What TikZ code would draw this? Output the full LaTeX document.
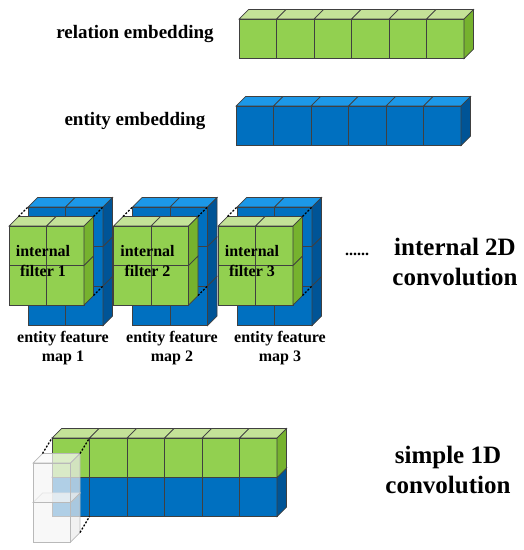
\documentclass[tikz,border=0pt]{standalone}
\usepackage{fontspec}
\setmainfont{Liberation Serif}
\usetikzlibrary{calc}
\definecolor{greenF}{RGB}{146,208,80}
\definecolor{greenT}{RGB}{196,226,152}
\definecolor{greenS}{RGB}{118,178,46}
\definecolor{blueF}{RGB}{0,112,192}
\definecolor{blueT}{RGB}{28,152,232}
\definecolor{blueS}{RGB}{0,84,150}
\newcommand{\cubew}{37.5}
\newcommand{\cubeh}{39.5}
\newcommand{\depx}{9.5}
\newcommand{\depy}{-9.5}
% #1,#2 front top left, #3 cols, #4 rows, #5 front, #6 top, #7 side, #8 name
\newcommand{\cubeblock}[8]{%
  \coordinate (#8-ftl) at (#1,#2);
  \coordinate (#8-btl) at ($(#8-ftl)+(\depx,\depy)$);
  \coordinate (#8-btr) at ($(#8-btl)+({#3*\cubew},0)$);
  \coordinate (#8-bbr) at ($(#8-btr)+(0,{#4*\cubeh})$);
  \foreach \i in {1,...,#3}{
    \draw[edge, fill=#6] ($(#8-ftl)+({(\i-1)*\cubew},0)$) -- ++(\cubew,0) -- ++(\depx,\depy) -- ++(-\cubew,0) -- cycle;
    \foreach \j in {1,...,#4}
      \draw[edge, fill=#5] ($(#8-ftl)+({(\i-1)*\cubew},{(\j-1)*\cubeh})$) rectangle ++(\cubew,\cubeh);
  }
  \foreach \j in {1,...,#4}
    \draw[edge, fill=#7] ($(#8-ftl)+({#3*\cubew},{(\j-1)*\cubeh})$) -- ++(0,\cubeh) -- ++(\depx,\depy) -- ++(0,-\cubeh) -- cycle;
}

\begin{document}
\begin{tikzpicture}[x=1pt, y=-1pt,
  edge/.style={draw=black!75, line width=0.7pt},
  link/.style={line width=1.3pt, dash pattern=on 2pt off 1.6pt},
  lbl/.style={font=\bfseries\fontsize{19}{22}\selectfont, align=center},
  maplbl/.style={font=\bfseries\fontsize{16}{19.5}\selectfont, align=center},
  biglbl/.style={font=\bfseries\fontsize{25}{29.5}\selectfont, align=center}]
\useasboundingbox (0,0) rectangle (524,550);

% embeddings
\cubeblock{239}{19}{6}{1}{greenF}{greenT}{greenS}{rel}
\node[lbl] (rellbl) at (135,34) {relation embedding};
\cubeblock{236}{106}{6}{1}{blueF}{blueT}{blueS}{ent}
\node[lbl] (entlbl) at (135,121) {entity embedding};

% internal 2D convolution
\foreach \k/\bx in {1/28, 2/132.5, 3/237}{
  \cubeblock{\bx}{207}{2}{3}{blueF}{blueT}{blueS}{m\k}
  \coordinate (m\k-cut) at ($(m\k-ftl)+({2*\cubew},{2*\cubeh})$);
  \coordinate (m\k-ftr) at ($(m\k-ftl)+({2*\cubew},0)$);
  \cubeblock{\bx-19}{226}{2}{2}{greenF}{greenT}{greenS}{f\k}
  \draw[link] (f\k-btl) -- (m\k-ftl);
  \draw[link] (f\k-btr) -- (m\k-ftr);
  \draw[link] (f\k-bbr) -- (m\k-cut);
  \node[maplbl] (t\k) at ($(f\k-ftl)+(34,35)$) {internal\\filter \k};
}
\node[maplbl] (map1) at (63,348) {entity feature\\map 1};
\node[maplbl] (map2) at (172,348) {entity feature\\map 2};
\node[maplbl] (map3) at (280,348) {entity feature\\map 3};
\node[maplbl] (dots) at (357,254) {......};
\node[biglbl] (conv2d) at (455,262) {internal 2D\\convolution};

% simple 1D convolution
\cubeblock{52}{477}{6}{1}{blueF}{blueT}{blueS}{rowb}
\cubeblock{52}{438}{6}{1}{greenF}{greenT}{greenS}{rowg}
\coordinate (rowg-ftr) at ($(rowg-ftl)+(\cubew,0)$);
\coordinate (rowb-fbr) at ($(rowb-ftl)+(\cubew,\cubeh)$);
\begin{scope}[fill opacity=0.72, edge/.append style={draw=gray!55}]
  \cubeblock{33}{502.5}{1}{1}{gray!8}{gray!5}{gray!16}{gb}
  \cubeblock{33}{463}{1}{1}{gray!8}{gray!5}{gray!16}{gt}
\end{scope}
\draw[link] (gt-btl) -- (rowg-ftl);
\draw[link] (gt-btr) -- (rowg-ftr);
\draw[link] (gb-bbr) -- (rowb-fbr);
\node[biglbl] (conv1d) at (448,470) {simple 1D\\convolution};
\end{tikzpicture}
\end{document}
